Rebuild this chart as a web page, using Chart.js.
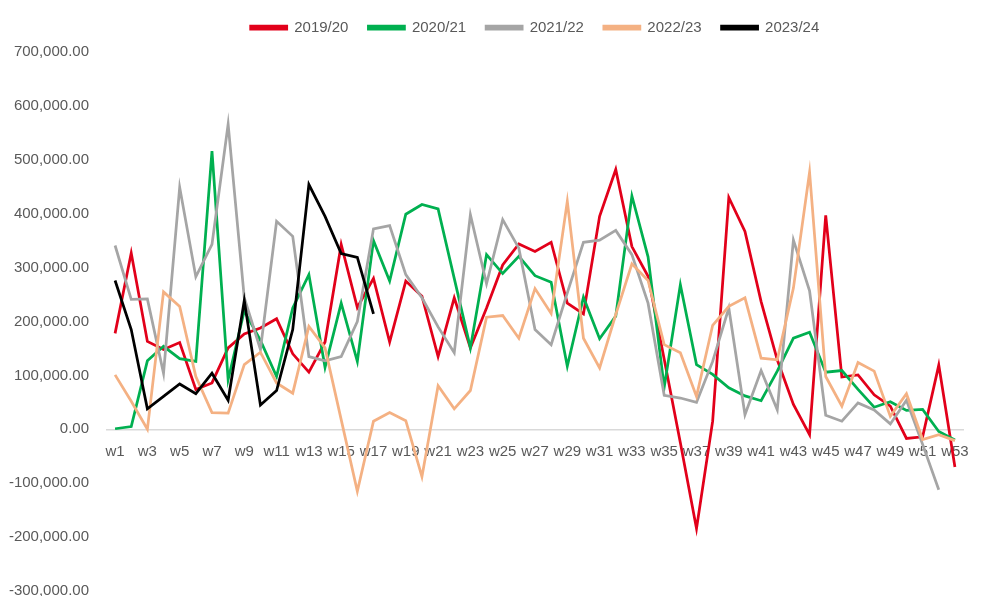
<!DOCTYPE html>
<html>
<head>
<meta charset="utf-8">
<script src="https://cdn.jsdelivr.net/npm/chart.js@4/dist/chart.umd.min.js"></script>
<style>
  html, body { margin: 0; padding: 0; background: #fff; overflow: hidden; }
  #wrap { width: 1005px; height: 618px; }
</style>
</head>
<body>
<div id="wrap"><canvas id="chart"></canvas></div>
<script>
// week labels
var weeks = [];
for (var i = 1; i <= 53; i++) weeks.push("w" + i);

var seriesNames = ["2019/20", "2020/21", "2021/22", "2022/23", "2023/24"];
var seriesColors = ["#e2001a", "#00b050", "#a5a5a5", "#f4b183", "#000000"];

var s2019 = [178000, 327000, 163000, 148000, 161000, 74000, 86000, 151000, 177000, 188000,
  205000, 140000, 106000, 162000, 343000, 226000, 280000, 162000, 275000, 247000,
  135000, 244000, 151000, 225000, 305000, 344000, 330000, 347000, 234000, 214000,
  395000, 482000, 339000, 284000, 130000, -25000, -184000, 15000, 430000, 367000,
  237000, 129000, 46000, -10000, 397000, 97000, 101000, 64000, 43000, -17000,
  -14000, 119000, -70000];

var s2020 = [1000, 5000, 127000, 154000, 131000, 126000, 516000, 92000, 220000, 165000,
  98000, 225000, 287000, 115000, 234000, 126000, 350000, 275000, 399000, 417000,
  409000, 280000, 151000, 324000, 289000, 321000, 285000, 273000, 117000, 245000,
  168000, 210000, 433000, 320000, 78000, 268000, 120000, 102000, 77000, 62000,
  53000, 108000, 169000, 180000, 106000, 109000, 74000, 41000, 51000, 35000,
  37000, -4000, -20000];

var s2021 = [341000, 241000, 242000, 104000, 449000, 283000, 343000, 566000, 244000, 148000,
  386000, 358000, 135000, 127000, 135000, 200000, 372000, 378000, 287000, 244000,
  190000, 142000, 398000, 270000, 389000, 336000, 185000, 157000, 253000, 347000,
  351000, 369000, 324000, 234000, 63000, 58000, 50000, 126000, 225000, 27000,
  109000, 36000, 351000, 257000, 26000, 15000, 49000, 36000, 10000, 54000,
  -28000, -112000, null];

var s2022 = [101000, 52000, 0, 255000, 228000, 98000, 31000, 30000, 120000, 143000,
  86000, 67000, 191000, 151000, 18000, -115000, 15000, 31000, 16000, -88000,
  81000, 38000, 72000, 208000, 211000, 169000, 261000, 215000, 423000, 169000,
  114000, 213000, 307000, 276000, 157000, 142000, 61000, 193000, 228000, 244000,
  132000, 129000, 262000, 477000, 98000, 43000, 124000, 108000, 24000, 66000,
  -19000, -10000, -21000];

var s2023 = [276000, 185000, 38000, 61000, 84000, 66000, 104000, 54000, 239000, 45000,
  72000, 185000, 454000, 395000, 326000, 319000, 214000];

var allSeries = [s2019, s2020, s2021, s2022, s2023];

var textColor = "#595959";
var fontFam = "'Liberation Sans', Arial, sans-serif";

var datasets = [];
for (var k = 0; k < allSeries.length; k++) {
  datasets.push({
    label: seriesNames[k],
    data: allSeries[k],
    borderColor: seriesColors[k],
    backgroundColor: seriesColors[k],
    borderWidth: 2.75,
    pointRadius: 0,
    tension: 0,
    fill: false,
    spanGaps: false,
    order: allSeries.length - k // later seasons drawn on top
  });
}

var ctx = document.getElementById("chart").getContext("2d");
var chart = new Chart(ctx, {
  type: "line",
  data: { labels: weeks, datasets: datasets },
  options: {
    responsive: true,
    maintainAspectRatio: false,
    animation: false,
    layout: { padding: { left: 0, right: 42, top: 0, bottom: 0 } },
    plugins: {
      legend: {
        position: "top",
        weight: 3000,
        fullSize: false,
        labels: {
          boxWidth: 36,
          boxHeight: 3,
          padding: 20,
          color: textColor,
          font: { family: fontFam, size: 15 },
          sort: function (a, b) { return a.datasetIndex - b.datasetIndex; }
        }
      },
      // empty title only used as a spacer under the legend
      title: { display: true, text: "", padding: 0, font: { size: 7, lineHeight: 1 } },
      tooltip: { enabled: false }
    },
    scales: {
      x: {
        position: { y: 0 },
        offset: true,
        grid: { display: false, drawTicks: false },
        border: { display: true, color: "#d9d9d9", width: 1.5 },
        ticks: {
          autoSkip: false,
          maxRotation: 0,
          padding: 14,
          color: textColor,
          font: { family: fontFam, size: 15 },
          callback: function (v, i) { return i % 2 === 0 ? weeks[i] : ""; }
        }
      },
      y: {
        min: -300000,
        max: 700000,
        afterFit: function (scale) { scale.width = 107; },
        grid: { display: false, drawTicks: false },
        border: { display: false },
        ticks: {
          stepSize: 100000,
          padding: 18,
          color: textColor,
          font: { family: fontFam, size: 15 },
          callback: function (v) {
            return v.toLocaleString("en-US", { minimumFractionDigits: 2, maximumFractionDigits: 2 });
          }
        }
      }
    }
  }
});
</script>
</body>
</html>
